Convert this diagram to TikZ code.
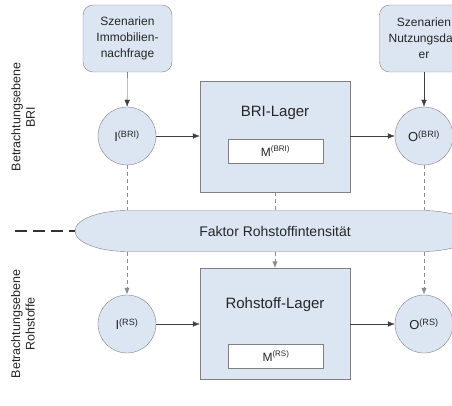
\documentclass[tikz,border=0pt]{standalone}
\usepackage{fontspec}
\setmainfont{Liberation Sans}
\usetikzlibrary{arrows.meta}
\definecolor{boxfill}{HTML}{DCE6F2}
\definecolor{boxline}{HTML}{808080}
\definecolor{flowline}{HTML}{404040}
\definecolor{labeltext}{HTML}{262626}

\begin{document}
\begin{tikzpicture}[x=1pt, y=-1pt, every node/.style={font=\fontsize{12}{14}\selectfont, text=labeltext}, >={Latex[length=7pt,width=5.5pt]},
	szenario/.style={draw=boxline, fill=boxfill, rounded corners=10pt, minimum width=89pt, minimum height=67pt, align=center, inner sep=1pt, font=\fontsize{12}{16}\selectfont},
	flowpoint/.style={circle, draw=boxline, fill=boxfill, minimum size=58pt, inner sep=0pt, font=\fontsize{13}{15}\selectfont},
	lager/.style={draw=boxline, fill=boxfill, minimum width=150pt, minimum height=111pt},
	bestand/.style={draw=boxline, fill=white, minimum width=95pt, minimum height=24pt, inner sep=0pt},
	fluss/.style={->, draw=flowline},
	faktorlinie/.style={draw=black!45, dash pattern=on 4pt off 3pt, line width=1pt}]
	\clip (0,0) rectangle (452,406);
	\useasboundingbox (0,0) rectangle (452,406);
	\node[rotate=90, align=center, font=\fontsize{12.5}{14.5}\selectfont] (ebeneBRI) at (23,117) {Betrachtungsebene\\BRI};
	\node[rotate=90, align=center, font=\fontsize{12.5}{14.5}\selectfont] (ebeneRS) at (23,324) {Betrachtungsebene\\Rohstoffe};
	\node[szenario] (szI) at (127.5,38.5) {Szenarien\\Immobilien-\\nachfrage};
	\node[szenario] (szO) at (424,38.5) {Szenarien\\Nutzungsdau\\er};
	\node[flowpoint] (inBRI) at (127,136) {I\textsuperscript{(BRI)}};
	\node[flowpoint] (outBRI) at (424,136) {O\textsuperscript{(BRI)}};
	\node[flowpoint] (inRS) at (127,324) {I\textsuperscript{(RS)}};
	\node[flowpoint] (outRS) at (424,324) {O\textsuperscript{(RS)}};
	\node[lager] (lagerBRI) at (275,136.5) {};
	\node[font=\fontsize{15}{17}\selectfont] (nameBRI) at (275,113) {BRI-Lager};
	\node[bestand] (mBRI) at (275.5,151) {M\textsuperscript{(BRI)}};
	\node[lager] (lagerRS) at (275,324) {};
	\node[font=\fontsize{15}{17}\selectfont] (nameRS) at (275,305) {Rohstoff-Lager};
	\node[bestand] (mRS) at (276,356) {M\textsuperscript{(RS)}};
	\node[minimum width=400pt, minimum height=41pt] (faktor) at (275,231) {};
	\draw[faktorlinie] (inBRI.south) -- (inBRI.south |- faktor.north);
	\draw[faktorlinie] (lagerBRI.south) -- (lagerBRI.south |- faktor.north);
	\draw[faktorlinie] (outBRI.south) -- (outBRI.south |- faktor.north);
	\draw[faktorlinie, ->] (inRS.north |- faktor.south) -- (inRS.north);
	\draw[faktorlinie, ->] (lagerRS.north |- faktor.south) -- (lagerRS.north);
	\draw[faktorlinie, ->] (outRS.north |- faktor.south) -- (outRS.north);
	\filldraw[draw=boxline, fill=boxfill] (127,210.5) -- (423,210.5) arc[start angle=90, end angle=-90, x radius=52pt, y radius=20.5pt] -- (127,251.5) arc[start angle=270, end angle=90, x radius=52pt, y radius=20.5pt] -- cycle;
	\node[font=\fontsize{14}{16}\selectfont] (faktorText) at (275,231) {Faktor Rohstoffintensität};
	\coordinate (grenze) at (15,231);
	\draw[black!80, line width=1.2pt, dash pattern=on 12pt off 6pt] (grenze) -- (faktor.west);
	\draw[fluss] (szI) -- (inBRI);
	\draw[fluss] (szO) -- (outBRI);
	\draw[fluss] (inBRI.east) -- (inBRI.east -| lagerBRI.west);
	\draw[fluss] (lagerBRI.east |- outBRI.west) -- (outBRI.west);
	\draw[fluss] (inRS.east) -- (inRS.east -| lagerRS.west);
	\draw[fluss] (lagerRS.east |- outRS.west) -- (outRS.west);
\end{tikzpicture}
\end{document}
